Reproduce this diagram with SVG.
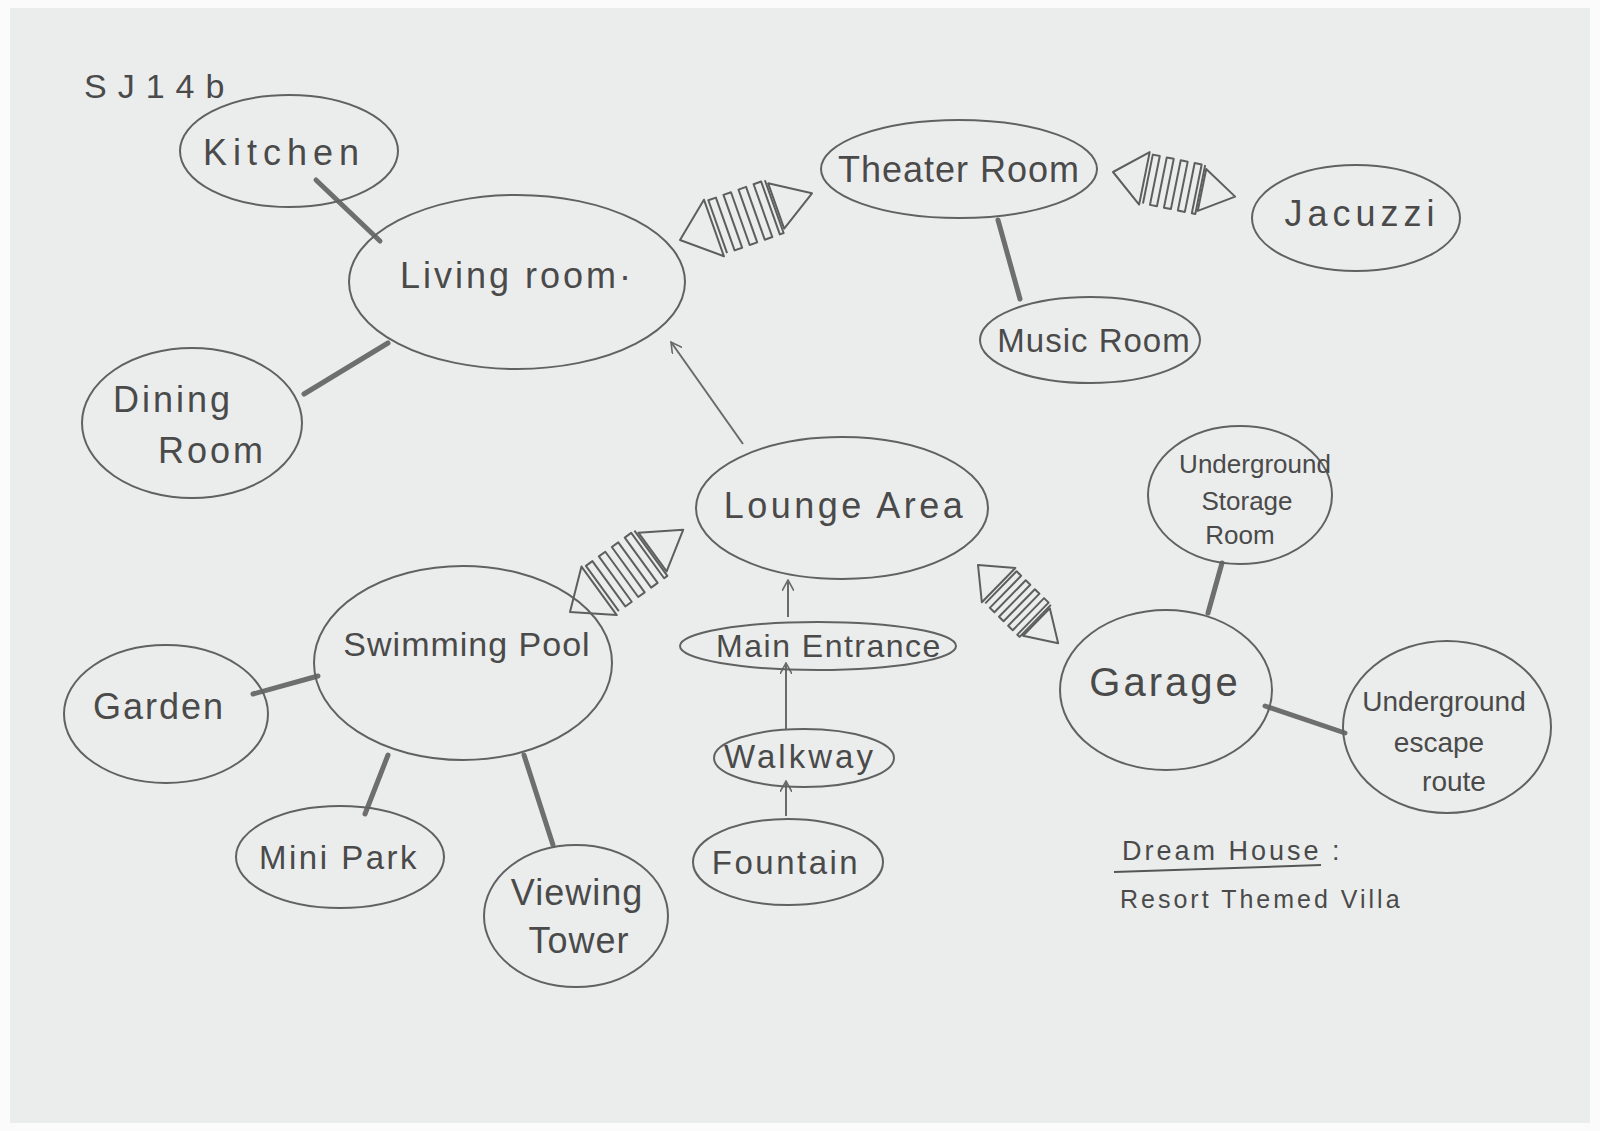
<svg xmlns="http://www.w3.org/2000/svg" width="1600" height="1131" viewBox="0 0 1600 1131">
<style>
.node ellipse{fill:none;stroke:#616161;stroke-width:2}
text{font-family:"Liberation Sans","DejaVu Sans",sans-serif;fill:#4a4a4a;text-anchor:middle}
.t{font-size:36px;letter-spacing:1px}
.s{font-size:26px}
.link{stroke:#6e6e6e;stroke-width:5;stroke-linecap:round}
.arr{stroke:#6a6a6a;stroke-width:2;fill:none;marker-end:url(#ah)}
.h *{fill:none;stroke:#5e5e5e;stroke-width:2;stroke-linejoin:round;vector-effect:non-scaling-stroke}
</style>
<defs>
<marker id="ah" viewBox="0 0 12 12" refX="11" refY="6" markerWidth="12" markerHeight="12" markerUnits="userSpaceOnUse" orient="auto">
<path d="M0,0 L11,6 L0,12" fill="none" stroke="#6a6a6a" stroke-width="1.6"/>
</marker>
<g id="harrow" class="h">
<polygon points="0,0 36,-30 36,30"/>
<path d="M40,28 V-28 H48 V28 H56 V-28 H64 V28 H72 V-28 H80 V28 H88 V-28 H96 V28 H100 V-28"/>
<polygon points="102,-24 140,0 102,24"/>
</g>
</defs>
<rect width="1600" height="1131" fill="#fbfbfb"/>
<rect x="10" y="8" width="1580" height="1115" fill="#ebedec"/>
<text x="84" y="98" style="font-size:34px;letter-spacing:11px;text-anchor:start">SJ14b</text>

<g id="connectors">
<line class="link" x1="316" y1="180" x2="380" y2="241"/>
<line class="link" x1="304" y1="394" x2="388" y2="343"/>
<line class="link" x1="998" y1="220" x2="1020" y2="299"/>
<line class="link" x1="1222" y1="563" x2="1208" y2="613"/>
<line class="link" x1="1265" y1="706" x2="1345" y2="733"/>
<line class="link" x1="253" y1="694" x2="318" y2="676"/>
<line class="link" x1="365" y1="814" x2="388" y2="755"/>
<line class="link" x1="524" y1="755" x2="553" y2="845"/>
<line class="arr" x1="743" y1="444" x2="671" y2="342"/>
<line class="arr" x1="788" y1="617" x2="788" y2="580"/>
<line class="arr" x1="786" y1="730" x2="786" y2="663"/>
<line class="arr" x1="786" y1="816" x2="786" y2="781"/>
<use href="#harrow" transform="translate(680,240) rotate(-19.5)"/>
<use href="#harrow" transform="translate(1113,172) rotate(11.4) scale(0.89)"/>
<use href="#harrow" transform="translate(570,612) rotate(-36)"/>
<use href="#harrow" transform="translate(978,565) rotate(44.3) scale(0.8)"/>
</g>

<g id="kitchen" class="node"><ellipse cx="289" cy="151" rx="109" ry="56"/><text class="t" x="284" y="165" style="letter-spacing:6px">Kitchen</text></g>
<g id="living" class="node"><ellipse cx="517" cy="282" rx="168" ry="87"/><text class="t" x="517" y="288" style="letter-spacing:3px">Living room·</text></g>
<g id="dining" class="node"><ellipse cx="192" cy="423" rx="110" ry="75"/><text class="t" x="173" y="412" style="letter-spacing:3px">Dining</text><text class="t" x="212" y="463" style="letter-spacing:3px">Room</text></g>
<g id="theater" class="node"><ellipse cx="959" cy="169" rx="138" ry="49"/><text class="t" x="959" y="182">Theater Room</text></g>
<g id="jacuzzi" class="node"><ellipse cx="1356" cy="218" rx="104" ry="53"/><text class="t" x="1362" y="226" style="letter-spacing:5px">Jacuzzi</text></g>
<g id="music" class="node"><ellipse cx="1090" cy="340" rx="110" ry="43"/><text class="t" x="1094" y="352" style="font-size:33px">Music Room</text></g>
<g id="lounge" class="node"><ellipse cx="842" cy="508" rx="146" ry="71"/><text class="t" x="845" y="518" style="letter-spacing:3.5px">Lounge Area</text></g>
<g id="storage" class="node"><ellipse cx="1240" cy="495" rx="92" ry="69"/><text class="s" x="1255" y="473">Underground</text><text class="s" x="1247" y="510">Storage</text><text class="s" x="1240" y="544">Room</text></g>
<g id="pool" class="node"><ellipse cx="463" cy="663" rx="149" ry="97"/><text class="t" x="467" y="656" style="font-size:34px">Swimming Pool</text></g>
<g id="entrance" class="node"><ellipse cx="818" cy="646" rx="138" ry="24"/><text class="t" x="829" y="657" style="font-size:32px;letter-spacing:1.5px">Main Entrance</text></g>
<g id="garage" class="node"><ellipse cx="1166" cy="690" rx="106" ry="80"/><text class="t" x="1165" y="696" style="font-size:40px;letter-spacing:3px">Garage</text></g>
<g id="escape" class="node"><ellipse cx="1447" cy="727" rx="104" ry="86"/><text class="s" x="1444" y="711" style="font-size:28px">Underground</text><text class="s" x="1439" y="752" style="font-size:28px">escape</text><text class="s" x="1454" y="791" style="font-size:28px">route</text></g>
<g id="garden" class="node"><ellipse cx="166" cy="714" rx="102" ry="69"/><text class="t" x="159" y="719" style="letter-spacing:2px">Garden</text></g>
<g id="walkway" class="node"><ellipse cx="804" cy="758" rx="90" ry="29"/><text class="t" x="800" y="768" style="font-size:33px;letter-spacing:3px">Walkway</text></g>
<g id="minipark" class="node"><ellipse cx="340" cy="857" rx="104" ry="51"/><text class="t" x="339" y="869" style="font-size:33px;letter-spacing:2.5px">Mini Park</text></g>
<g id="fountain" class="node"><ellipse cx="788" cy="862" rx="95" ry="43"/><text class="t" x="786" y="874" style="font-size:33px;letter-spacing:2.5px">Fountain</text></g>
<g id="tower" class="node"><ellipse cx="576" cy="916" rx="92" ry="71"/><text class="t" x="577" y="905">Viewing</text><text class="t" x="579" y="953">Tower</text></g>

<g id="title">
<text x="1122" y="860" style="font-size:27px;letter-spacing:3px;text-anchor:start">Dream House :</text>
<line x1="1114" y1="872" x2="1321" y2="865" stroke="#555" stroke-width="2"/>
<text x="1120" y="908" style="font-size:25px;letter-spacing:3px;text-anchor:start">Resort Themed Villa</text>
</g>
</svg>
